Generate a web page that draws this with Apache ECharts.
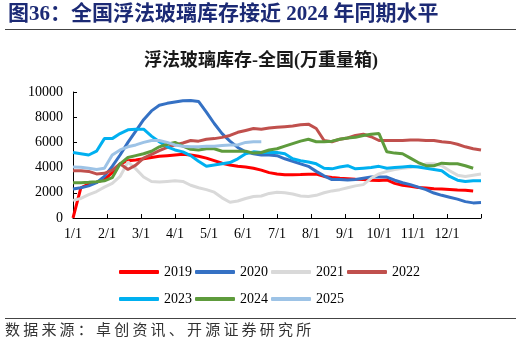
<!DOCTYPE html>
<html>
<head>
<meta charset="utf-8">
<script src="https://cdn.jsdelivr.net/npm/echarts@6/dist/echarts.min.js"></script>
<style>
html,body{margin:0;padding:0;background:#fff;}
#chart{width:522px;height:344px;}
</style>
</head>
<body>
<div id="chart"></div>
<script>
// ---- data (weekly, ten-thousand weight boxes) ----
const monthLabels = ['1/1','2/1','3/1','4/1','5/1','6/1','7/1','8/1','9/1','10/1','11/1','12/1'];
const yTicks = [0, 2000, 4000, 6000, 8000, 10000];
const years = ['2019','2020','2021','2022','2023','2024','2025'];

const s2019 = [0,2400,2700,2850,3050,3600,4300,4550,4600,4700,4800,4900,4950,5000,5050,5000,4900,4750,4550,4350,4200,4100,4050,3950,3800,3600,3500,3430,3430,3450,3480,3480,3300,3220,3150,3120,3080,3050,3000,2980,3020,2750,2600,2520,2420,2380,2330,2300,2270,2230,2200,2150];
const s2020 = [2300,2400,2550,2800,3300,4100,5000,6000,6900,7800,8500,8950,9100,9200,9300,9330,9250,8400,7500,6700,6100,5600,5250,5100,5000,5000,4950,4700,4500,4300,4100,3700,3350,3050,3050,3020,3050,3150,3250,3250,3250,3000,2800,2650,2450,2250,1980,1800,1650,1500,1300,1200,1230];
const s2021 = [1400,1550,1850,2100,2450,2750,3300,4450,3900,3250,2900,2850,2900,2950,2900,2600,2400,2250,2050,1600,1250,1350,1550,1700,1750,1950,2050,2000,1900,1750,1700,1800,2000,2150,2250,2400,2550,2650,3150,3500,3700,3850,3950,4000,4100,4300,4300,4150,3750,3400,3300,3400,3500];
const s2022 = [3750,3750,3700,3500,3550,3800,4300,3850,4200,4750,5050,5350,5600,5800,5950,6150,6100,6250,6300,6400,6550,6800,6950,7100,7050,7150,7200,7250,7300,7400,7450,7100,6150,6050,6250,6350,6550,6650,6450,6150,6150,6150,6150,6200,6200,6150,6150,6050,6000,5850,5650,5500,5400];
const s2023 = [5200,5100,5000,5300,6300,6300,6700,7000,7050,7050,6500,6050,5650,5400,5250,4950,4500,4100,4200,4300,4400,4700,5100,5250,5200,5200,5200,5100,4700,4550,4450,4300,3950,3900,4050,4150,3900,3950,4000,4100,3950,4000,4050,4100,4050,3950,3850,3750,3300,3000,2900,2950,2950];
const s2024 = [2800,2800,2830,2880,2950,3200,4300,4800,4950,5100,5300,5650,5850,6000,5700,5450,5400,5500,5500,5300,5300,5300,5300,5150,5200,5400,5500,5700,5900,6100,6250,6050,6050,6100,6250,6350,6400,6550,6650,6700,5250,5150,5100,4750,4400,4150,4150,4350,4300,4300,4150,3950];
const s2025 = [4050,4020,3950,3850,3950,5000,5400,5650,5800,6000,6150,6150,6000,5800,5700,5650,5650,5700,5700,5750,5800,5800,6000,6050,6050];

const seriesValues = [s2019, s2020, s2021, s2022, s2023, s2024, s2025];
const colors = ['#FF0000','#3571C4','#D9D9D9','#C0504D','#00B0F0','#5E9B3C','#9DC3E6'];

const WEEK = 12 / 52; // months per week on the month-based x axis
const serif = 'Liberation Serif, Times New Roman, Noto Sans CJK SC, serif';
const cjk = 'Liberation Serif, Noto Sans CJK SC, sans-serif';

const chart = echarts.init(document.getElementById('chart'), null, {renderer: 'canvas'});

const series = years.map((y, k) => ({
  name: y,
  type: 'line',
  data: seriesValues[k].map((v, i) => [i * WEEK, v]),
  showSymbol: false,
  symbol: 'none',
  lineStyle: {width: 3, color: colors[k]},
  itemStyle: {color: colors[k]},
  z: 2 + k,
  animation: false
}));

const sourceText = '数据来源：卓创资讯、开源证券研究所';
const sourceChars = Array.from(sourceText).map((ch, i) => ({
  type: 'text',
  left: 5 + i * 18.2,
  top: 322,
  style: {text: ch, fill: '#333', font: '15px "Noto Sans CJK SC", sans-serif'}
}));

const legendCommon = {
  icon: 'roundRect',
  itemWidth: 40,
  itemHeight: 4,
  itemGap: 3,
  left: 114,
  orient: 'horizontal',
  textStyle: {fontFamily: serif, fontSize: 14, color: '#000', padding: [0,0,0,0]},
  selectedMode: false
};

chart.setOption({
  animation: false,
  backgroundColor: '#fff',
  color: colors,
  title: {
    text: '浮法玻璃库存-全国(万重量箱)',
    left: 'center',
    top: 47,
    textStyle: {fontFamily: cjk, fontSize: 18, fontWeight: 'bold', color: '#1a1a1a'}
  },
  legend: [
    Object.assign({}, legendCommon, {data: years.slice(0, 4), top: 260}),
    Object.assign({}, legendCommon, {data: years.slice(4), top: 287})
  ],
  grid: {left: 73, right: 41, top: 92, bottom: 126, containLabel: false},
  xAxis: {
    type: 'value',
    min: 0,
    max: 12,
    interval: 1,
    axisLine: {show: true, lineStyle: {color: '#000', width: 1}},
    axisTick: {show: true, inside: true, length: 4, lineStyle: {color: '#000'}},
    splitLine: {show: false},
    axisLabel: {
      fontFamily: serif, fontSize: 14, color: '#000', margin: 9,
      showMaxLabel: true,
      formatter: v => (v < 12 ? monthLabels[Math.round(v)] : '')
    }
  },
  yAxis: {
    type: 'value',
    min: yTicks[0],
    max: yTicks[yTicks.length - 1],
    interval: 2000,
    axisLine: {show: true, lineStyle: {color: '#000', width: 1}},
    axisTick: {show: true, inside: true, length: 4, lineStyle: {color: '#000'}},
    splitLine: {show: false},
    axisLabel: {fontFamily: serif, fontSize: 14, color: '#000', margin: 10, formatter: v => String(v)}
  },
  graphic: [
    {
      type: 'text', left: 8, top: 4,
      style: {text: '图36：全国浮法玻璃库存接近 2024 年同期水平', fill: '#1c2a75',
        font: 'bold 21px "Liberation Serif", "Noto Sans CJK SC", serif'}
    },
    {type: 'line', shape: {x1: 5, y1: 29.5, x2: 516, y2: 29.5}, style: {stroke: '#444', lineWidth: 1}},
    {type: 'line', shape: {x1: 5, y1: 318.5, x2: 516, y2: 318.5}, style: {stroke: '#444', lineWidth: 1}}
  ].concat(sourceChars),
  series: series
});
</script>
</body>
</html>
